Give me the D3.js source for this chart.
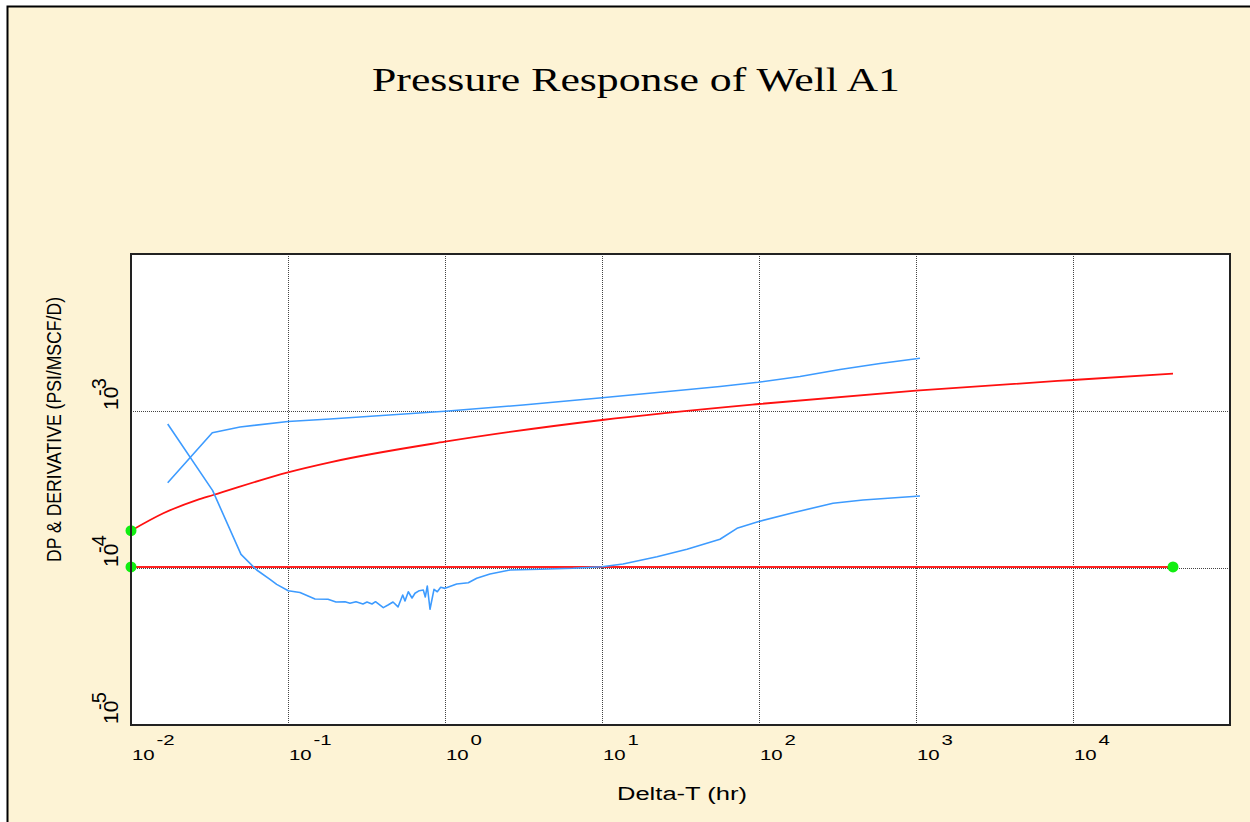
<!DOCTYPE html>
<html>
<head>
<meta charset="utf-8">
<title>Pressure Response of Well A1</title>
<script src="https://cdnjs.cloudflare.com/ajax/libs/d3/7.8.5/d3.min.js"></script>
<style>
  body { margin: 0; background: #fff; }
</style>
</head>
<body>
<div id="container"></div>
<script>
// Measured pressure change (upper blue curve)
var dpTime  = [0.01713, 0.03294, 0.04947, 0.1, 0.1851, 1.0, 3.139, 10, 28.33, 56.43, 98.5, 182.4, 328, 589.7, 1060];
var dpValue = [3.494e-4, 7.273e-4, 7.908e-4, 8.571e-4, 8.892e-4, 9.956e-4, 1.092e-3, 1.215e-3, 1.341e-3, 1.432e-3, 1.523e-3, 1.659e-3, 1.837e-3, 2.006e-3, 2.166e-3];

// Pressure derivative (lower blue curve)
var derTime  = [0.01713, 0.03314, 0.0502, 0.0632, 0.0768, 0.0847, 0.1004, 0.1192, 0.1486, 0.1798,
                0.2021, 0.2307, 0.2482, 0.2710, 0.3003, 0.3186, 0.3428, 0.3609, 0.4046, 0.4335,
                0.4665, 0.5021, 0.5378, 0.5562, 0.5837, 0.6164, 0.6441, 0.6859, 0.7273, 0.7489,
                0.7714, 0.8026, 0.8510, 0.8933, 0.9389, 1.0, 1.187, 1.407, 1.592, 1.935,
                2.594, 4.028, 6.537, 10, 13.61, 22.4, 34.78, 56.43, 72.42, 98.5,
                164.7, 296, 459.7, 1060];
var derValue = [8.26e-4, 3.11e-4, 1.22e-4, 9.71e-5, 8.47e-5, 7.87e-5, 7.17e-5, 6.98e-5, 6.35e-5, 6.32e-5,
                6.07e-5, 6.10e-5, 5.96e-5, 6.10e-5, 5.90e-5, 6.07e-5, 5.90e-5, 6.10e-5, 5.59e-5, 5.81e-5,
                6.07e-5, 5.65e-5, 6.73e-5, 6.16e-5, 7.06e-5, 6.44e-5, 6.90e-5, 7.17e-5, 7.24e-5, 6.54e-5,
                7.68e-5, 5.46e-5, 7.31e-5, 7.06e-5, 7.53e-5, 7.42e-5, 7.91e-5, 8.06e-5, 8.60e-5, 9.16e-5,
                9.71e-5, 9.81e-5, 9.96e-5, 1.019e-4, 1.06e-4, 1.18e-4, 1.315e-4, 1.524e-4, 1.79e-4, 1.972e-4,
                2.25e-4, 2.583e-4, 2.71e-4, 2.875e-4];

// Model pressure curve (red)
var modelTime  = [0.01, 0.01606, 0.02621, 0.0334, 0.1, 0.1851, 1, 10, 100, 1000, 10000, 43350];
var modelValue = [1.728e-4, 2.231e-4, 2.71e-4, 2.917e-4, 4.07e-4, 4.712e-4, 6.374e-4, 8.764e-4, 1.108e-3, 1.347e-3, 1.576e-3, 1.728e-3];

// Model derivative (flat red line)
var flatTime  = [0.01, 43350];
var flatValue = [1.015e-4, 1.015e-4];

// Match points (green)
var matchTime  = [0.01, 0.01, 43350];
var matchValue = [1.728e-4, 1.015e-4, 1.015e-4];

// Axis ticks
var xTickExps = [-2, -1, 0, 1, 2, 3, 4];
var yTickExps = [-5, -4, -3];
var xGridValues = [1e-1, 1e0, 1e1, 1e2, 1e3, 1e4];
var yGridValues = [1e-4, 1e-3];

var w = 1250, h = 822;
var plotLeft = 131, plotRight = 1230, plotTop = 254, plotBottom = 725;

var svg = d3.select("#container").append("svg")
    .attr("width", w)
    .attr("height", h)
    .style("display", "block");

// page background, border only on top and left
svg.append("rect")
    .attr("x", 7.5).attr("y", 6.5)
    .attr("width", w).attr("height", h)
    .attr("fill", "#fdf3d5")
    .attr("stroke", "#000")
    .attr("stroke-width", 2);

var x = d3.scaleLog().domain([1e-2, 1e5]).range([plotLeft, plotRight]);
var y = d3.scaleLog().domain([1e-5, 1e-2]).range([plotBottom, plotTop]);

// plot area
svg.append("rect")
    .attr("x", plotLeft).attr("y", plotTop)
    .attr("width", plotRight - plotLeft).attr("height", plotBottom - plotTop)
    .attr("fill", "#fff");

// grid lines through d3 axes
var gx = svg.append("g")
    .attr("transform", "translate(0," + plotBottom + ")")
    .call(d3.axisBottom(x).tickValues(xGridValues).tickSize(-(plotBottom - plotTop)).tickFormat(""));
var gy = svg.append("g")
    .attr("transform", "translate(" + plotLeft + ",0)")
    .call(d3.axisLeft(y).tickValues(yGridValues).tickSize(-(plotRight - plotLeft)).tickFormat(""));
[gx, gy].forEach(function(g) {
    g.select(".domain").remove();
    g.selectAll("line")
        .attr("stroke", "#444")
        .attr("stroke-width", 1)
        .attr("stroke-dasharray", "1,1");
});

function pts(ts, vs) {
    return ts.map(function(t, i) { return [t, vs[i]]; });
}

var line = d3.line()
    .x(function(d) { return x(d[0]); })
    .y(function(d) { return y(d[1]); });

var smooth = d3.line()
    .x(function(d) { return x(d[0]); })
    .y(function(d) { return y(d[1]); })
    .curve(d3.curveMonotoneX);

svg.append("path")
    .attr("d", line(pts(flatTime, flatValue)))
    .attr("fill", "none").attr("stroke", "#ff2020").attr("stroke-width", 2);

svg.append("path")
    .attr("d", smooth(pts(modelTime, modelValue)))
    .attr("fill", "none").attr("stroke", "#ff1010").attr("stroke-width", 1.8);

svg.append("path")
    .attr("d", line(pts(dpTime, dpValue)))
    .attr("fill", "none").attr("stroke", "#3d9bff").attr("stroke-width", 1.6)
    .attr("stroke-linejoin", "round");

svg.append("path")
    .attr("d", line(pts(derTime, derValue)))
    .attr("fill", "none").attr("stroke", "#3d9bff").attr("stroke-width", 1.6)
    .attr("stroke-linejoin", "round");

svg.selectAll("circle.match")
    .data(pts(matchTime, matchValue))
    .enter()
    .append("circle")
    .attr("class", "match")
    .attr("cx", function(d) { return x(d[0]); })
    .attr("cy", function(d) { return y(d[1]); })
    .attr("r", 5.5)
    .attr("fill", "#11ee11");

// plot frame
svg.append("rect")
    .attr("x", plotLeft).attr("y", plotTop)
    .attr("width", plotRight - plotLeft).attr("height", plotBottom - plotTop)
    .attr("fill", "none")
    .attr("stroke", "#222")
    .attr("stroke-width", 2);

// x tick labels: 10 with superscript exponent
var xl = svg.selectAll("g.xlab")
    .data(xTickExps)
    .enter()
    .append("g")
    .attr("class", "xlab")
    .attr("transform", function(e) {
        return "translate(" + (x(Math.pow(10, e)) + 1) + ",760) scale(1.36,1)";
    })
    .style("font-family", "'Liberation Sans', Arial, sans-serif")
    .style("font-size", "15px")
    .attr("fill", "#000");
xl.append("text").text("10");
xl.append("text").attr("x", 18).attr("y", -15).text(function(e) { return e; });

// y tick labels, rotated
var yl = svg.selectAll("g.ylab")
    .data(yTickExps)
    .enter()
    .append("g")
    .attr("class", "ylab")
    .attr("transform", function(e) {
        return "translate(118," + (y(Math.pow(10, e)) - 1) + ") rotate(-90)";
    })
    .style("font-family", "'Liberation Sans', Arial, sans-serif")
    .attr("fill", "#000");
yl.append("text").style("font-size", "21px").text("10");
yl.append("text").attr("x", 14).attr("y", -12).style("font-size", "20px").text(function(e) { return e; });

// titles
svg.append("text")
    .attr("x", 372).attr("y", 91)
    .attr("textLength", 528)
    .attr("lengthAdjust", "spacingAndGlyphs")
    .style("font-family", "'Liberation Serif', 'Times New Roman', serif")
    .style("font-size", "33px")
    .text("Pressure Response of Well A1");

svg.append("text")
    .attr("x", 617).attr("y", 800)
    .attr("textLength", 130)
    .attr("lengthAdjust", "spacingAndGlyphs")
    .style("font-family", "'Liberation Sans', Arial, sans-serif")
    .style("font-size", "18px")
    .text("Delta-T (hr)");

svg.append("text")
    .attr("transform", "translate(61,562) rotate(-90)")
    .attr("textLength", 265)
    .attr("lengthAdjust", "spacingAndGlyphs")
    .style("font-family", "'Liberation Sans', Arial, sans-serif")
    .style("font-size", "21px")
    .text("DP & DERIVATIVE (PSI/MSCF/D)");
</script>
</body>
</html>
